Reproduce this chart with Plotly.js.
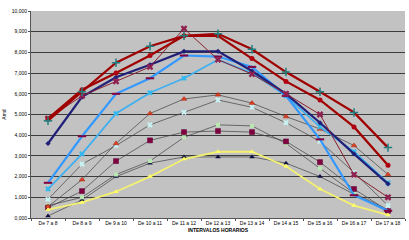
<!DOCTYPE html>
<html>
<head>
<meta charset="utf-8">
<script src="https://cdn.plot.ly/plotly-3.0.1.min.js"></script>
<style>
html,body{margin:0;padding:0;background:#fff;}
#chart{width:409px;height:240px;}
</style>
</head>
<body>
<div id="chart"></div>
<script>
const categories = ["De 7 a 8","De 8 a 9","De 9 a 10","De 10 a 11","De 11 a 12","De 12 a 13","De 13 a 14","De 14 a 15","De 15 a 16","De 16 a 17","De 17 a 18"];
const yTickVals = [0,1,2,3,4,5,6,7,8,9,10];
const yTickText = ["0,000","1,000","2,000","3,000","4,000","5,000","6,000","7,000","8,000","9,000","10,000"];

const seriesYellow   = [0.40, 0.75, 1.27, 2.00, 2.85, 3.20, 3.20, 2.50, 1.40, 0.60, 0.15];
const seriesNavyTri  = [0.10, 0.87, 2.00, 2.65, 2.95, 2.95, 2.95, 2.65, 2.00, 1.15, 0.30];
const seriesPaleGrn  = [0.60, 1.00, 2.10, 2.75, 3.90, 4.50, 4.45, 3.60, 2.40, 1.20, 0.40];
const seriesSquare   = [0.50, 1.30, 2.75, 3.75, 4.15, 4.20, 4.15, 3.70, 2.70, 1.40, 0.35];
const seriesPaleCyan = [0.90, 2.60, 3.50, 4.50, 5.10, 5.70, 5.35, 4.60, 3.70, 2.20, 0.60];
const seriesTriangle = [0.55, 1.85, 3.60, 5.05, 5.75, 5.95, 5.55, 4.90, 4.30, 3.50, 2.10];
const seriesBlueX    = [1.40, 3.10, 5.05, 6.05, 6.75, 7.65, 7.00, 5.90, 4.40, 3.20, 1.70];
const seriesBlueDash = [1.70, 3.95, 6.00, 6.75, 7.85, 7.80, 7.30, 5.90, 3.80, 1.10, 0.35];
const seriesNavy     = [3.60, 5.85, 6.80, 7.40, 8.05, 8.05, 7.10, 6.00, 4.60, 3.10, 1.65];
const seriesStar     = [4.80, 5.90, 6.60, 7.30, 9.15, 7.65, 6.95, 6.00, 5.00, 2.10, 1.00];
const seriesRedDot   = [4.80, 6.20, 7.00, 7.85, 8.80, 8.80, 7.70, 6.60, 5.70, 4.40, 2.55];
const seriesRedPlus  = [4.70, 6.10, 7.50, 8.30, 8.80, 8.90, 8.15, 7.05, 6.10, 5.10, 3.40];

function tr(y, lineColor, lineWidth, symbol, mColor, mSize, mLineColor, mLineWidth){
  return {
    x: categories, y: y, type: 'scatter', mode: 'lines+markers',
    line: {color: lineColor, width: lineWidth},
    marker: {symbol: symbol, color: mColor, size: mSize,
             line: {color: mLineColor || mColor, width: mLineWidth || 0}},
    hoverinfo: 'skip', showlegend: false
  };
}

const data = [
  tr(seriesNavyTri,  '#404040', 0.7, 'triangle-up', '#101040', 5),
  tr(seriesPaleGrn,  '#404040', 0.7, 'square', '#b8e8b0', 4),
  tr(seriesSquare,   '#404040', 0.7, 'square', '#800040', 5, '#5a0030', 0.5),
  tr(seriesPaleCyan, '#404040', 0.7, 'x', '#c8f4f4', 5),
  tr(seriesTriangle, '#404040', 0.7, 'triangle-up', '#e04020', 5, '#a02010', 0.5),
  tr(seriesYellow,   '#f4f070', 1.8, 'triangle-up', '#ffff66', 5),
  tr(seriesBlueX,    '#40b0f0', 1.8, 'x', '#30b8f0', 5),
  tr(seriesBlueDash, '#3399ff', 2.2, 'line-ew-open', '#800040', 6, '#800040', 2),
  tr(seriesNavy,     '#202078', 2.2, 'diamond', '#202078', 4),
  tr(seriesStar,     '#8a2030', 1.0, 'x', '#902050', 6),
  tr(seriesRedDot,   '#a00000', 2.2, 'circle', '#b00010', 5),
  tr(seriesRedPlus,  '#a00000', 2.2, 'cross-thin-open', '#208080', 6, '#208080', 1.5)
];

const layout = {
  width: 409, height: 240,
  margin: {l: 31, r: 4, t: 11, b: 22},
  paper_bgcolor: '#ffffff',
  plot_bgcolor: '#c2c2c2',
  font: {family: 'Liberation Sans, Arial, sans-serif', size: 5, color: '#000'},
  xaxis: {
    type: 'category', range: [-0.5, 10.5],
    showgrid: false, zeroline: false,
    showline: true, linecolor: '#555', linewidth: 1,
    ticks: 'outside', tickson: 'boundaries', ticklen: 2, tickcolor: '#555',
    tickfont: {size: 5},
    title: {text: '<b>INTERVALOS HORARIOS</b>', font: {size: 5}, standoff: 3}
  },
  yaxis: {
    range: [0, 10], tickvals: yTickVals, ticktext: yTickText,
    showgrid: true, gridcolor: '#3c3c3c', gridwidth: 1,
    zeroline: false, showline: true, linecolor: '#555', linewidth: 1,
    ticks: 'outside', ticklen: 2, tickcolor: '#555',
    tickfont: {size: 5},
    title: {text: 'Amd', font: {size: 5}, standoff: 4}
  }
};

Plotly.newPlot('chart', data, layout, {staticPlot: true, displayModeBar: false});
</script>
</body>
</html>
